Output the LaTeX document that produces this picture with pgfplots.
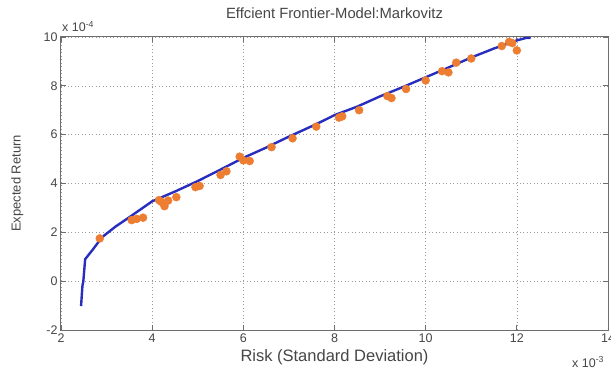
\documentclass[border=0pt]{standalone}
\usepackage{pgfplots}
\pgfplotsset{compat=1.18}
\usepackage{fontspec}
\setmainfont{Liberation Sans}
\definecolor{lineblue}{RGB}{40,45,190}
\definecolor{dotorange}{RGB}{237,125,49}
\definecolor{txt}{RGB}{70,70,70}
\definecolor{axgray}{RGB}{110,110,110}
\begin{document}
\begin{tikzpicture}
\begin{axis}[
  name=ax,
  width=547bp, height=293bp, scale only axis,
  xmin=2, xmax=14, ymin=-2, ymax=10,
  xtick={2,4,...,14}, ytick={-2,0,...,10},
  /pgf/number format/assume math mode=true,
  tick label style={font=\fontsize{12.5bp}{14bp}\selectfont, text=txt},
  axis line style={axgray, line width=1bp},
  tick style={axgray, line width=0.8bp},
  tick align=inside, major tick length=5bp,
  grid=major,
  major grid style={axgray!70, line width=0.6bp, dash pattern=on 1bp off 2.5bp},
  title={Effcient Frontier-Model:Markovitz},
  title style={at={(axis description cs:0.5,1)}, anchor=center, yshift=18bp, font=\fontsize{14.8bp}{16bp}\selectfont, text=txt},
  xlabel={Risk (Standard Deviation)},
  xlabel style={at={(axis description cs:0.5,0)}, anchor=center, yshift=-27bp, font=\fontsize{16.5bp}{18bp}\selectfont, text=txt},
  ylabel={Expected Return},
  ylabel style={at={(axis description cs:-0.08,0.5)}, anchor=center, font=\fontsize{13bp}{15bp}\selectfont, text=txt},
  clip=false,
]
\addplot[lineblue, line width=2.4bp, line join=round] coordinates {
(2.44,-1.02) (2.47,-0.2) (2.49,0.0) (2.53,0.9) (2.7,1.3) (2.9,1.8)
(3.2,2.24) (3.5,2.62) (4.0,3.27) (4.5,3.67) (5.0,4.1) (5.5,4.57)
(6.0,5.05) (6.5,5.47) (7.0,5.92) (7.6,6.43) (8.0,6.8) (8.5,7.15)
(9.0,7.57) (9.5,7.95) (10.0,8.35) (10.5,8.75) (11.0,9.16) (11.5,9.53)
(12.0,9.86) (12.2,9.96) (12.3,9.96)
};
\addplot[only marks, mark=*, mark size=4bp, dotorange, mark options={draw=dotorange, fill=dotorange}] coordinates {
(2.85,1.75) (3.55,2.5) (3.66,2.55) (3.8,2.6) (4.15,3.32) (4.2,3.25) (4.27,3.07)
(4.35,3.3) (4.53,3.44) (4.95,3.85) (5.04,3.9) (5.5,4.35) (5.63,4.5)
(5.92,5.1) (6.0,4.95) (6.14,4.92) (6.62,5.49) (7.08,5.85) (7.6,6.33)
(8.1,6.7) (8.17,6.75) (8.54,7.0) (9.16,7.58) (9.25,7.5) (9.57,7.87)
(10.0,8.22) (10.36,8.6) (10.5,8.55) (10.67,8.95) (11.0,9.12)
(11.67,9.63) (11.83,9.8) (11.9,9.75) (12.0,9.45)
};
\end{axis}
\node[anchor=base west, text=txt, font=\fontsize{12.5bp}{14bp}\selectfont, inner sep=0pt] at ([xshift=1bp, yshift=5bp]ax.north west) {x 10\textsuperscript{-4}};
\node[anchor=base west, text=txt, font=\fontsize{12.5bp}{14bp}\selectfont, inner sep=0pt] at ([xshift=-36bp, yshift=-37bp]ax.south east) {x 10\textsuperscript{-3}};
\pgfresetboundingbox
\path[use as bounding box] ([xshift=-61bp, yshift=-40bp]ax.south west) rectangle ([xshift=3bp, yshift=37bp]ax.north east);
\end{tikzpicture}
\end{document}
